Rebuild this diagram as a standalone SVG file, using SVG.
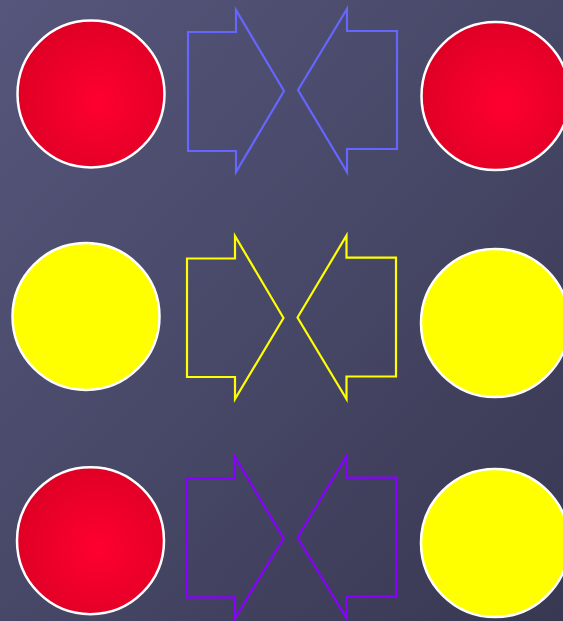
<svg xmlns="http://www.w3.org/2000/svg" width="563" height="621" viewBox="0 0 563 621">
  <defs>
    <linearGradient id="bg" x1="0" y1="0" x2="1" y2="1">
      <stop offset="0" stop-color="#56567c"/>
      <stop offset="1" stop-color="#383852"/>
    </linearGradient>
    <radialGradient id="red" cx="0.55" cy="0.55" r="0.55">
      <stop offset="0" stop-color="#ff0030"/>
      <stop offset="1" stop-color="#e00025"/>
    </radialGradient>
  </defs>
  <style>
    .red { fill: url(#red); stroke: #ffffff; stroke-width: 2.5; }
    .yel { fill: #ffff00; stroke: #ffffff; stroke-width: 2.5; }
    .arr { fill: none; stroke-width: 2.2; stroke-linejoin: miter; }
    .blue { stroke: #6666ff; }
    .yellow { stroke: #ffff00; }
    .purple { stroke: #8800ff; }
  </style>
  <rect width="563" height="621" fill="url(#bg)"/>
  <g id="row1-left"><circle class="red" cx="91" cy="94" r="73.5"/></g>
  <g id="row1-right"><circle class="red" cx="495.5" cy="96" r="74"/></g>
  <g id="row2-left"><circle class="yel" cx="86" cy="316.5" r="73.5"/></g>
  <g id="row2-right"><circle class="yel" cx="495" cy="323" r="74"/></g>
  <g id="row3-left"><circle class="red" cx="90.5" cy="540.7" r="73.5"/></g>
  <g id="row3-right"><circle class="yel" cx="495" cy="543" r="74"/></g>
  <g id="connectors">
    <path class="arr blue" d="M188 32 H236 V10 L284 91 L236 172 V151 H188 Z"/>
    <path class="arr blue" d="M298 90 L347 9 V31 H397 V149 H347 V172 Z"/>
    <path class="arr yellow" d="M187 258.5 H235 V236 L283.5 318 L235 399 V377 H187 Z"/>
    <path class="arr yellow" d="M297.5 317.5 L346.5 235.5 V257.7 H396 V376.5 H346.5 V399 Z"/>
    <path class="arr purple" d="M187 478.3 H235 V457 L283.5 538.3 L235 618.3 V597.3 H187 Z"/>
    <path class="arr purple" d="M297.5 537.5 L346.5 456 V477.7 H396 V596.7 H346.5 V618.3 Z"/>
  </g>
</svg>
